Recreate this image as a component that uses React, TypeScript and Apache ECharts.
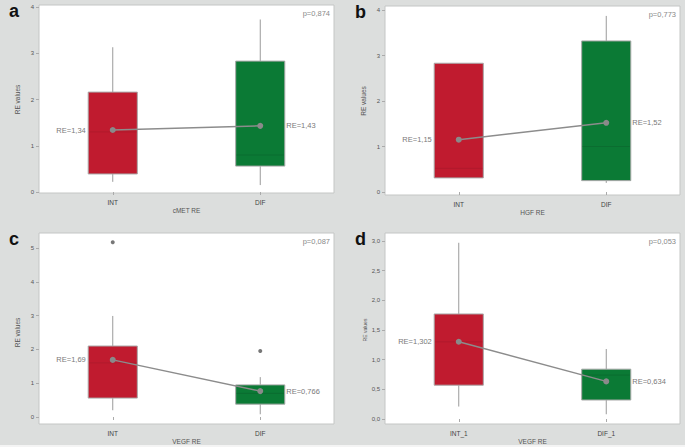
import React, { useEffect, useRef } from 'react';
import * as echarts from 'echarts';

// ---------- data ----------
const panelLetters = ['a', 'b', 'c', 'd'];
const xAxisTitles = ['cMET RE', 'HGF RE', 'VEGF RE', 'VEGF RE'];
const yAxisTitle = 'RE values';
const pValues = ['p=0,874', 'p=0,773', 'p=0,087', 'p=0,053'];
const categoriesABC = ['INT', 'DIF'];
const categoriesD = ['INT_1', 'DIF_1'];

// [min, Q1, median, Q3, max]
const boxesA = [[0.22, 0.39, 1.3, 2.16, 3.13], [0.15, 0.56, 0.8, 2.83, 3.73]];
const boxesB = [[0.31, 0.31, 0.52, 2.83, 2.83], [0.2, 0.25, 1.0, 3.32, 3.87]];
const boxesC = [[0.2, 0.56, 1.6, 2.1, 2.99], [0.08, 0.38, 0.7, 0.95, 1.18]];
const boxesD = [[0.21, 0.57, 1.3, 1.77, 2.97], [0.08, 0.32, 0.74, 0.84, 1.18]];

const meansA = [1.34, 1.43];
const meansB = [1.15, 1.52];
const meansC = [1.69, 0.766];
const meansD = [1.302, 0.634];

const meanLabelsA = ['RE=1,34', 'RE=1,43'];
const meanLabelsB = ['RE=1,15', 'RE=1,52'];
const meanLabelsC = ['RE=1,69', 'RE=0,766'];
const meanLabelsD = ['RE=1,302', 'RE=0,634'];

const outliersC = [[0, 5.17], [1, 1.95]];

const yMaxes = [4, 4, 5, 3];
const yIntervals = [1, 1, 1, 0.5];

// ---------- layout / style ----------
const RED = '#c01b2f';
const GREEN = '#0b7a35';
const MED_RED = '#b01a2c';
const MED_GREEN = '#0b6d30';

const layout = [
  { plot: [39, 5, 295, 188], grid: { left: 39, width: 295, top: 7, height: 185 }, xOffset: 1, yGap: 18, yNameSize: 6.5 },
  { plot: [385, 6, 295, 189], grid: { left: 385, width: 295, top: 10, height: 182 }, xOffset: 3, yGap: 18, yNameSize: 6.5 },
  { plot: [39, 233, 295, 191], grid: { left: 39, width: 295, top: 248, height: 169 }, xOffset: 7, yGap: 18, yNameSize: 6.5 },
  { plot: [385, 233, 295, 191], grid: { left: 385, width: 295, top: 241, height: 178 }, xOffset: 5, yGap: 13, yNameSize: 5 },
];

const panels = [
  { cats: categoriesABC, boxes: boxesA, means: meansA, meanLabels: meanLabelsA, outliers: [] as number[][] },
  { cats: categoriesABC, boxes: boxesB, means: meansB, meanLabels: meanLabelsB, outliers: [] as number[][] },
  { cats: categoriesABC, boxes: boxesC, means: meansC, meanLabels: meanLabelsC, outliers: outliersC },
  { cats: categoriesD, boxes: boxesD, means: meansD, meanLabels: meanLabelsD, outliers: [] as number[][] },
];

function renderBox(params: any, api: any) {
  const idx = api.value(0);
  const vals = [1, 2, 3, 4, 5].map((i) => api.value(i));
  const cx = api.coord([idx, vals[0]])[0];
  const ys = vals.map((v) => api.coord([idx, v])[1]);
  const w = api.size([1, 0])[0] * 0.333;
  const fill = idx === 0 ? RED : GREEN;
  const med = idx === 0 ? MED_RED : MED_GREEN;
  const children: any[] = [];
  if (ys[0] - ys[1] > 0.5) {
    children.push({ type: 'line', shape: { x1: cx, y1: ys[1], x2: cx, y2: ys[0] }, style: { stroke: '#9a9a9a', lineWidth: 1 } });
  }
  if (ys[3] - ys[4] > 0.5) {
    children.push({ type: 'line', shape: { x1: cx, y1: ys[4], x2: cx, y2: ys[3] }, style: { stroke: '#9a9a9a', lineWidth: 1 } });
  }
  children.push({
    type: 'rect',
    shape: { x: cx - w / 2, y: ys[3], width: w, height: ys[1] - ys[3] },
    style: { fill, stroke: '#a8a8a8', lineWidth: 1 },
  });
  children.push({
    type: 'line',
    shape: { x1: cx - w / 2 + 1, y1: ys[2], x2: cx + w / 2 - 1, y2: ys[2] },
    style: { stroke: med, lineWidth: 1 },
  });
  return { type: 'group', children };
}

function buildOption() {
  const grids: any[] = [];
  const xAxes: any[] = [];
  const yAxes: any[] = [];
  const series: any[] = [];
  const graphics: any[] = [];

  graphics.push({ type: 'rect', shape: { x: 0, y: 445, width: 685, height: 2 }, style: { fill: '#f4f4f4' }, z: -10 });

  panels.forEach((p, i) => {
    const L = layout[i];
    grids.push({ ...L.grid });
    const [px, py, pw, ph] = L.plot;
    graphics.push({
      type: 'rect',
      shape: { x: px, y: py, width: pw, height: ph },
      style: { fill: '#ffffff', stroke: '#c4c6c5', lineWidth: 1 },
      z: -5,
    });
    graphics.push({
      type: 'text',
      x: px - 30,
      y: py + 6,
      style: {
        text: panelLetters[i],
        font: 'bold 18px "Liberation Sans", Arial, sans-serif',
        fill: '#111111',
        textAlign: 'left',
        textVerticalAlign: 'middle',
      },
    });
    graphics.push({
      type: 'text',
      x: px + pw - 4,
      y: py + 8,
      style: {
        text: pValues[i],
        font: '7.5px "Liberation Sans", Arial, sans-serif',
        fill: '#8a8a8a',
        textAlign: 'right',
        textVerticalAlign: 'middle',
      },
    });

    xAxes.push({
      type: 'category',
      gridIndex: i,
      data: p.cats,
      offset: L.xOffset,
      name: xAxisTitles[i],
      nameLocation: 'middle',
      nameGap: 14,
      nameTextStyle: { fontSize: 6.5, color: '#555', fontFamily: 'Liberation Sans' },
      axisLine: { show: false },
      axisTick: { show: true, alignWithLabel: true, length: 3, lineStyle: { color: '#aaa' } },
      axisLabel: { fontSize: 6.5, color: '#444', margin: 6, fontFamily: 'Liberation Sans' },
      splitLine: { show: false },
    });
    yAxes.push({
      type: 'value',
      gridIndex: i,
      min: 0,
      max: yMaxes[i],
      interval: yIntervals[i],
      name: yAxisTitle,
      nameLocation: 'middle',
      nameRotate: 90,
      nameGap: L.yGap,
      nameTextStyle: { fontSize: L.yNameSize, color: '#555', fontFamily: 'Liberation Sans' },
      axisLine: { show: false },
      axisTick: { show: true, length: 3, lineStyle: { color: '#aaa' } },
      axisLabel: {
        fontSize: 6,
        color: '#555',
        margin: 5,
        fontFamily: 'Liberation Sans',
        formatter: (v: number) => (yIntervals[i] < 1 ? v.toFixed(1).replace('.', ',') : String(v)),
      },
      splitLine: { show: false },
    });

    series.push({
      type: 'custom',
      xAxisIndex: i,
      yAxisIndex: i,
      renderItem: renderBox,
      clip: false,
      encode: { x: 0, y: [1, 2, 3, 4, 5] },
      data: p.boxes.map((b, k) => [k, ...b]),
      z: 2,
    });
    if (p.outliers.length) {
      series.push({
        type: 'scatter',
        xAxisIndex: i,
        yAxisIndex: i,
        clip: false,
        data: p.outliers,
        symbol: 'circle',
        symbolSize: 4,
        itemStyle: { color: '#555' },
        z: 3,
      });
    }
    series.push({
      type: 'line',
      xAxisIndex: i,
      yAxisIndex: i,
      data: p.means.map((v, k) => ({
        value: v,
        label: {
          show: true,
          position: k === 0 ? 'left' : 'right',
          distance: k === 0 ? 24 : 23,
          formatter: p.meanLabels[k],
          fontSize: 7.5,
          color: '#7a7a7a',
          fontFamily: 'Liberation Sans',
        },
      })),
      symbol: 'circle',
      symbolSize: 6,
      itemStyle: { color: '#8a8a8a' },
      lineStyle: { color: '#8c8c8c', width: 1.5 },
      z: 4,
    });
  });

  return {
    animation: false,
    backgroundColor: '#dcdedd',
    grid: grids,
    xAxis: xAxes,
    yAxis: yAxes,
    series,
    graphic: graphics,
  };
}

export default function App() {
  const ref = useRef<HTMLDivElement>(null);
  useEffect(() => {
    if (!ref.current) return;
    const chart = echarts.init(ref.current, undefined, { renderer: 'svg' });
    chart.setOption(buildOption() as any);
    return () => chart.dispose();
  }, []);
  return (
    <div
      ref={ref}
      style={{ position: 'fixed', left: 0, top: 0, width: 685, height: 447 }}
    />
  );
}
